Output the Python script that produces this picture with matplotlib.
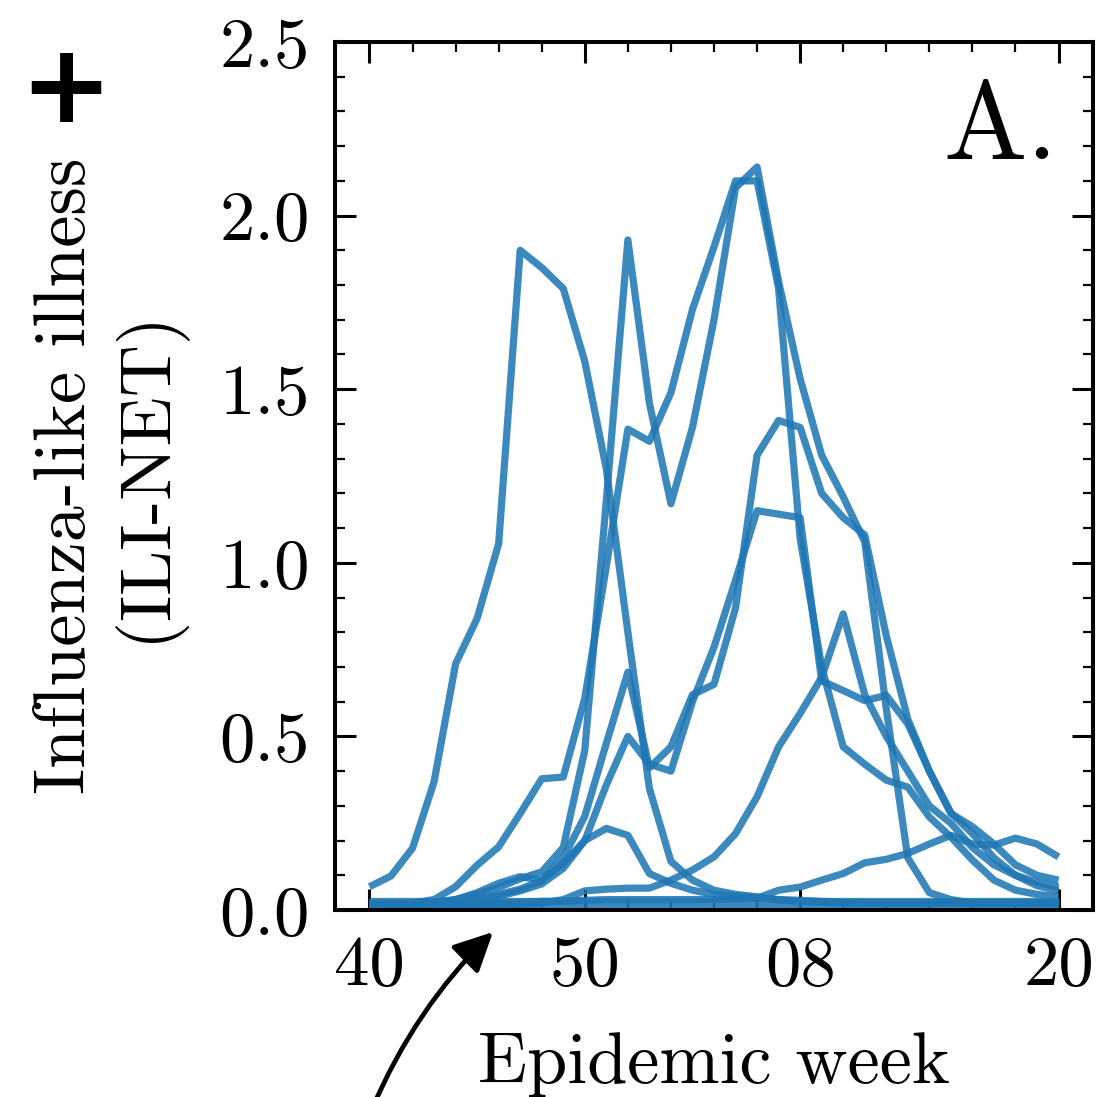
import matplotlib
matplotlib.use("Agg")
import matplotlib.pyplot as plt
import matplotlib.patheffects as pe
from matplotlib.ticker import FixedLocator, MultipleLocator, FormatStrFormatter

plt.rcParams['font.family'] = ['cmr10', 'DejaVu Sans']
plt.rcParams['mathtext.fontset'] = 'cm'
plt.rcParams['axes.unicode_minus'] = False
plt.rcParams['axes.formatter.use_mathtext'] = True

# epidemic weeks (x positions are their order)
weeks = list(range(40, 53)) + list(range(1, 21))
tick_weeks = [40, 50, 8, 20]

# ILI-NET curves per season
s1 = [0.067,0.098,0.178,0.369,0.709,0.840,1.055,1.900,1.850,1.790,1.580,1.270,0.800,0.350,0.140,0.086,0.057,0.045,0.038,0.029,0.025,0.022,0.020,0.020,0.020,0.020,0.020,0.020,0.020,0.020,0.020,0.020,0.020]
s2 = [0.015,0.015,0.018,0.022,0.030,0.045,0.065,0.090,0.110,0.180,0.460,1.180,1.930,1.460,1.170,1.390,1.700,2.080,2.140,1.810,1.530,1.310,1.190,1.060,0.580,0.150,0.050,0.030,0.020,0.020,0.020,0.020,0.020]
s3 = [0.015,0.015,0.020,0.030,0.067,0.129,0.182,0.278,0.378,0.383,0.610,0.990,1.385,1.350,1.490,1.730,1.910,2.100,2.100,1.790,1.070,0.700,0.470,0.420,0.374,0.354,0.268,0.210,0.144,0.086,0.057,0.045,0.038]
s4 = [0.010,0.010,0.012,0.015,0.020,0.030,0.045,0.060,0.085,0.150,0.270,0.480,0.685,0.410,0.470,0.620,0.650,0.870,1.310,1.410,1.390,1.200,1.130,1.080,0.790,0.550,0.400,0.280,0.220,0.150,0.100,0.070,0.055]
s5 = [0.010,0.010,0.012,0.015,0.020,0.028,0.040,0.055,0.075,0.120,0.200,0.360,0.500,0.420,0.400,0.600,0.757,0.950,1.150,1.140,1.130,0.660,0.632,0.603,0.618,0.536,0.400,0.278,0.240,0.190,0.130,0.100,0.086]
s6 = [0.012,0.012,0.012,0.013,0.014,0.015,0.015,0.016,0.020,0.030,0.055,0.060,0.063,0.063,0.086,0.115,0.153,0.220,0.326,0.470,0.566,0.670,0.853,0.620,0.500,0.400,0.300,0.250,0.180,0.130,0.100,0.080,0.066]
s7 = [0.012,0.013,0.015,0.020,0.030,0.050,0.077,0.096,0.086,0.134,0.200,0.235,0.215,0.105,0.077,0.057,0.045,0.040,0.035,0.030,0.028,0.025,0.022,0.020,0.020,0.020,0.020,0.020,0.020,0.020,0.020,0.020,0.020]
s8 = [0.020,0.020,0.020,0.020,0.020,0.020,0.020,0.022,0.025,0.025,0.028,0.030,0.030,0.030,0.030,0.030,0.031,0.032,0.034,0.057,0.066,0.086,0.105,0.136,0.146,0.163,0.190,0.215,0.190,0.187,0.207,0.190,0.153]
s9 = [0.025,0.025,0.025,0.025,0.025,0.025,0.025,0.025,0.025,0.025,0.025,0.025,0.025,0.025,0.025,0.025,0.025,0.025,0.025,0.025,0.025,0.025,0.025,0.025,0.025,0.025,0.025,0.025,0.025,0.025,0.025,0.025,0.025]
s10 = [0.005,0.005,0.005,0.005,0.005,0.005,0.005,0.005,0.005,0.005,0.005,0.005,0.005,0.005,0.005,0.005,0.005,0.005,0.005,0.005,0.005,0.005,0.005,0.005,0.005,0.005,0.005,0.005,0.005,0.005,0.005,0.005,0.005]
seasons = [s1, s2, s3, s4, s5, s6, s7, s8, s9, s10]

W, H = 1097, 1097
fig = plt.figure(figsize=(W / 100, H / 100), dpi=100)
ax = fig.add_axes([335 / W, 1 - 910 / H, (1093 - 335) / W, (910 - 42) / H])

x = list(range(len(weeks)))
for s in seasons:
    ax.plot(x, s, color='#1f77b4', lw=5.2, alpha=0.87, solid_joinstyle='round',
            solid_capstyle='butt')

ax.set_ylim(0, 2.5)
ax.margins(x=0.05)
ax.xaxis.set_major_locator(FixedLocator([weeks.index(w) for w in tick_weeks]))
ax.set_xticklabels([f"{w:02d}" for w in tick_weeks])
ax.xaxis.set_minor_locator(MultipleLocator(2))
ax.yaxis.set_major_locator(MultipleLocator(0.5))
ax.yaxis.set_minor_locator(MultipleLocator(0.1))
ax.yaxis.set_major_formatter(FormatStrFormatter('%.1f'))

ax.tick_params(which='both', direction='in', top=True, right=True)
ax.tick_params(which='major', length=15, width=2.2, labelsize=51, pad=18)
ax.tick_params(which='minor', length=7.2, width=1.6)
for sp in ax.spines.values():
    sp.set_linewidth(2.9)

ax.set_xlabel('Epidemic week', fontsize=52, va='baseline')
ax.xaxis.set_label_coords(0.5, -0.199)
ax.set_ylabel('Influenza-like illness\n(ILI-NET)', fontsize=52, va='center',
              linespacing=1.2)
ax.yaxis.set_label_coords(-0.298, 0.5)

fig.text(66 / W, 1 - 92 / H, '+', fontsize=80, fontweight='bold',
         family='DejaVu Sans', ha='center', va='center')

ax.text(0.954, 0.955, 'A.', transform=ax.transAxes, fontsize=80,
        ha='right', va='top')

ax.annotate('', xy=(493, H - 932), xycoords='figure pixels',
            xytext=(372, -12), textcoords='figure pixels',
            arrowprops=dict(arrowstyle='-|>,head_length=0.85,head_width=0.42',
                            mutation_scale=28, lw=3.4, color='black',
                            connectionstyle='arc3,rad=-0.1', shrinkA=0, shrinkB=0),
            annotation_clip=False)

fig.savefig('out.png', dpi=100)
